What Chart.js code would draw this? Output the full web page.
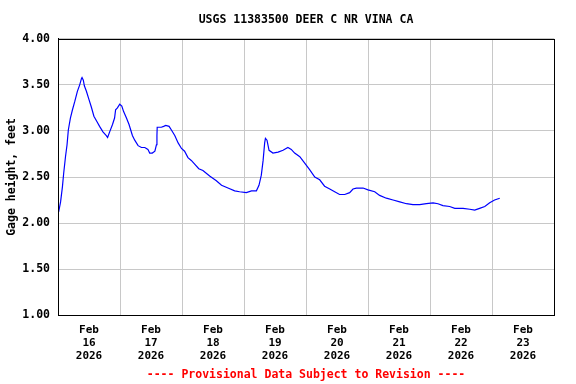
<!DOCTYPE html>
<html lang="en">
<head>
    <meta charset="UTF-8">
    <title>USGS 11383500 DEER C NR VINA CA</title>
    <script src="https://cdn.jsdelivr.net/npm/chart.js"></script>
    <style>
        html, body { margin: 0; padding: 0; background: #ffffff; }
        .chart-box { width: 576px; height: 384px; }
    </style>
</head>
<body>
    <div class="chart-box">
        <canvas id="gageChart"></canvas>
    </div>

    <script>
        // hours since Feb 16 2026 00:00
        const hours = [
            0.25, 1.0, 1.7, 2.2, 2.9, 3.5, 4.0, 4.8, 5.6, 6.5, 7.5, 8.4, 9.1, 9.3, 9.8, 10.2,
            11.0, 12.0, 12.9, 13.9, 15.1, 16.1, 17.4, 18.7, 19.2, 20.0, 21.1, 21.9, 22.3, 23.0,
            23.9, 24.7, 25.4, 26.5, 27.5, 28.8, 29.7, 31.0, 32.3, 33.6, 34.8, 35.5, 36.5, 37.5,
            38.1, 38.3, 38.4, 40.0, 40.9, 41.7, 43.0, 43.9, 45.2, 46.5, 47.8, 49.0, 50.3, 51.6,
            52.9, 54.5, 56.1, 58.7, 61.3, 63.3, 65.8, 68.4, 70.3, 72.9, 74.9, 76.8, 77.8, 78.7,
            79.4, 80.0, 80.3, 80.9, 81.7, 83.2, 85.2, 87.1, 89.0, 90.3, 91.6, 93.6, 95.5, 97.4,
            99.4, 101.3, 103.2, 105.2, 107.1, 109.0, 111.0, 112.9, 114.2, 115.5, 118.1, 120.0,
            122.6, 124.5, 127.1, 129.7, 132.3, 134.9, 137.4, 140.0, 142.6, 145.2, 147.1, 149.0,
            151.6, 153.6, 156.8, 159.4, 161.3, 163.2, 165.2, 167.1, 169.0, 171.0
        ];
        // gage height, feet
        const gageHeight = [
            2.12, 2.23, 2.39, 2.54, 2.72, 2.85, 3.01, 3.14, 3.23, 3.32, 3.43, 3.50, 3.57, 3.58, 3.55, 3.49,
            3.43, 3.34, 3.26, 3.16, 3.10, 3.05, 2.99, 2.95, 2.93, 2.99, 3.07, 3.14, 3.23, 3.25,
            3.29, 3.27, 3.21, 3.14, 3.07, 2.95, 2.90, 2.84, 2.82, 2.82, 2.80, 2.76, 2.76, 2.78,
            2.85, 2.95, 3.04, 3.04, 3.05, 3.06, 3.05, 3.01, 2.95, 2.87, 2.81, 2.78, 2.71, 2.68,
            2.64, 2.59, 2.57, 2.51, 2.46, 2.41, 2.38, 2.35, 2.34, 2.33, 2.35, 2.35, 2.41, 2.52,
            2.68, 2.87, 2.92, 2.90, 2.79, 2.76, 2.77, 2.79, 2.82, 2.80, 2.76, 2.72, 2.65, 2.58,
            2.50, 2.47, 2.40, 2.37, 2.34, 2.31, 2.31, 2.33, 2.37, 2.38, 2.38, 2.36,
            2.34, 2.30, 2.27, 2.25, 2.23, 2.21, 2.20, 2.20, 2.21, 2.22, 2.21, 2.19,
            2.18, 2.16, 2.16, 2.15, 2.14, 2.16, 2.18, 2.22, 2.25, 2.27
        ];
        const monthLabel = 'Feb';
        const dayLabels = ['16', '17', '18', '19', '20', '21', '22', '23'];
        const yearLabel = '2026';
        const yTicks = [1.0, 1.5, 2.0, 2.5, 3.0, 3.5, 4.0];

        const monoFont = 'DejaVu Sans Mono';

        // frame around the plot area
        const frameBox = {
            id: 'frameBox',
            afterDraw(chart) {
                const a = chart.chartArea;
                const c = chart.ctx;
                c.save();
                c.strokeStyle = '#000000';
                c.lineWidth = 1;
                c.strokeRect(Math.round(a.left) + 0.5, Math.round(a.top) + 0.5,
                    Math.round(a.right - a.left), Math.round(a.bottom - a.top));
                c.restore();
            }
        };

        const ctx = document.getElementById('gageChart').getContext('2d');
        new Chart(ctx, {
            type: 'line',
            data: {
                datasets: [{
                    data: hours.map((h, i) => ({ x: h, y: gageHeight[i] })),
                    borderColor: '#0000ff',
                    borderWidth: 1.2,
                    pointRadius: 0,
                    tension: 0,
                    fill: false
                }]
            },
            options: {
                responsive: true,
                maintainAspectRatio: false,
                animation: false,
                layout: { padding: { left: 0, right: 22, top: 0, bottom: 0 } },
                scales: {
                    x: {
                        type: 'linear',
                        min: 0,
                        max: 192,
                        afterBuildTicks: (scale) => {
                            scale.ticks = dayLabels.map((d, i) => ({ value: i * 24 })).concat([{ value: 192 }]);
                        },
                        afterFit: (scale) => { scale.height = 53; },
                        grid: { color: '#c8c8c8', lineWidth: 1, drawTicks: false },
                        border: { color: '#000000' },
                        ticks: {
                            padding: 8,
                            labelOffset: 31,
                            maxRotation: 0,
                            autoSkip: false,
                            color: '#000000',
                            font: { family: monoFont, size: 11, weight: 'bold', lineHeight: 1.2 },
                            callback: (value) => {
                                const i = Math.round(value / 24);
                                if (i >= dayLabels.length) return '';
                                return [monthLabel, dayLabels[i], yearLabel];
                            }
                        }
                    },
                    y: {
                        min: 1,
                        max: 4,
                        afterBuildTicks: (scale) => {
                            scale.ticks = yTicks.map(v => ({ value: v }));
                        },
                        afterFit: (scale) => { scale.width = 58; },
                        grid: { color: '#c8c8c8', lineWidth: 1, drawTicks: false },
                        border: { color: '#000000' },
                        title: {
                            display: true,
                            text: 'Gage height, feet',
                            color: '#000000',
                            padding: { top: 5, bottom: 0 },
                            font: { family: monoFont, size: 11.5, weight: 'bold', lineHeight: 1.2 }
                        },
                        ticks: {
                            padding: 8,
                            color: '#000000',
                            font: { family: monoFont, size: 11.5, weight: 'bold' },
                            callback: (value) => Number(value).toFixed(2)
                        }
                    }
                },
                plugins: {
                    legend: { display: false },
                    tooltip: { enabled: false },
                    title: {
                        display: true,
                        fullSize: false,
                        text: 'USGS 11383500 DEER C NR VINA CA',
                        color: '#000000',
                        padding: { top: 13, bottom: 12 },
                        font: { family: monoFont, size: 11.5, weight: 'bold', lineHeight: 1.2 }
                    },
                    subtitle: {
                        display: true,
                        fullSize: false,
                        position: 'bottom',
                        text: '---- Provisional Data Subject to Revision ----',
                        color: '#ff0000',
                        padding: { top: 0, bottom: 2 },
                        font: { family: monoFont, size: 11.5, weight: 'bold', lineHeight: 1.2 }
                    }
                }
            },
            plugins: [frameBox]
        });
    </script>
</body>
</html>
